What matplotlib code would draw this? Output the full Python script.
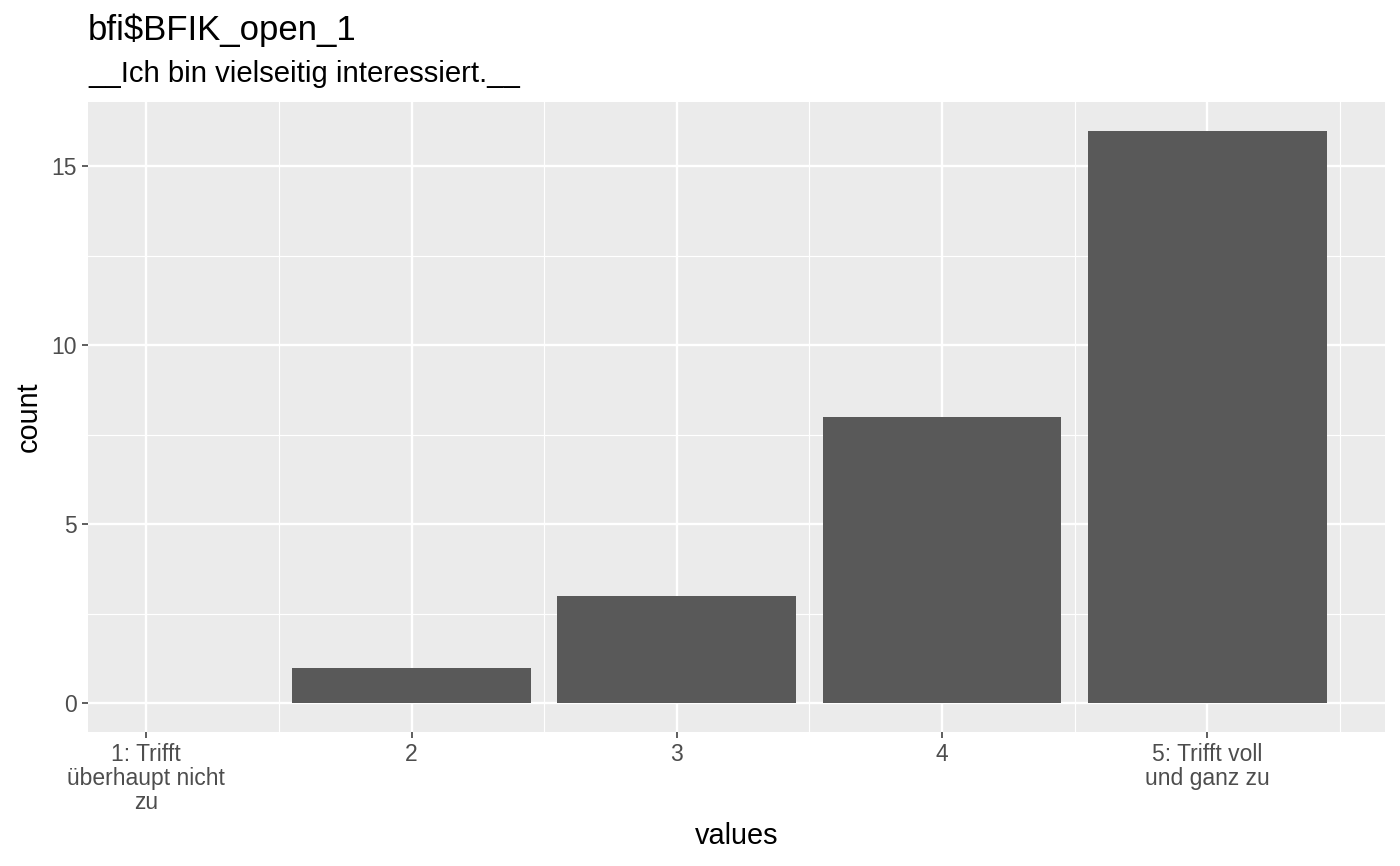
import matplotlib.pyplot as plt
from matplotlib.ticker import FixedLocator

plt.rcParams['font.family'] = ['Liberation Sans', 'DejaVu Sans']

# data
positions = [1, 2, 3, 4, 5]
counts = [0, 1, 3, 8, 16]
tick_labels = ['1: Trifft\nüberhaupt nicht\nzu', '2', '3', '4', '5: Trifft voll\nund ganz zu']
y_ticks = [0, 5, 10, 15]

fig = plt.figure(figsize=(14, 8.66), dpi=100)
ax = fig.add_axes([88 / 1400, 134 / 866, 1297 / 1400, 630 / 866])
ax.set_facecolor('#EBEBEB')

ax.bar(positions, counts, width=0.9, color='#595959', zorder=3)

ax.set_xlim(0.78, 5.67)
ax.set_ylim(-0.8, 16.8)

ax.set_xticks(positions)
ax.set_xticklabels(tick_labels, fontsize=16.5, color='#4D4D4D', linespacing=1.05)
ax.set_yticks(y_ticks)
ax.set_yticklabels([str(v) for v in y_ticks], fontsize=16.5, color='#4D4D4D')
ax.xaxis.set_minor_locator(FixedLocator([1.5, 2.5, 3.5, 4.5, 5.5]))
ax.yaxis.set_minor_locator(FixedLocator([2.5, 7.5, 12.5]))

ax.grid(which='major', color='white', linewidth=1.7, zorder=1)
ax.grid(which='minor', color='white', linewidth=0.85, zorder=1)
ax.set_axisbelow(True)

ax.tick_params(which='major', length=4.5, width=1.1, color='#333333', pad=3.5)
ax.tick_params(which='minor', length=0)
for s in ax.spines.values():
    s.set_visible(False)

ax.set_xlabel('values', fontsize=20.8, labelpad=6)
ax.set_ylabel('count', fontsize=20.8, labelpad=6)

fig.text(88 / 1400, 1 - 30 / 866, 'bfi$BFIK_open_1', fontsize=25, va='center', ha='left')
fig.text(88 / 1400, 1 - 74 / 866, '__Ich bin vielseitig interessiert.__', fontsize=21.1, va='center', ha='left')

fig.savefig('out.png', dpi=100)
